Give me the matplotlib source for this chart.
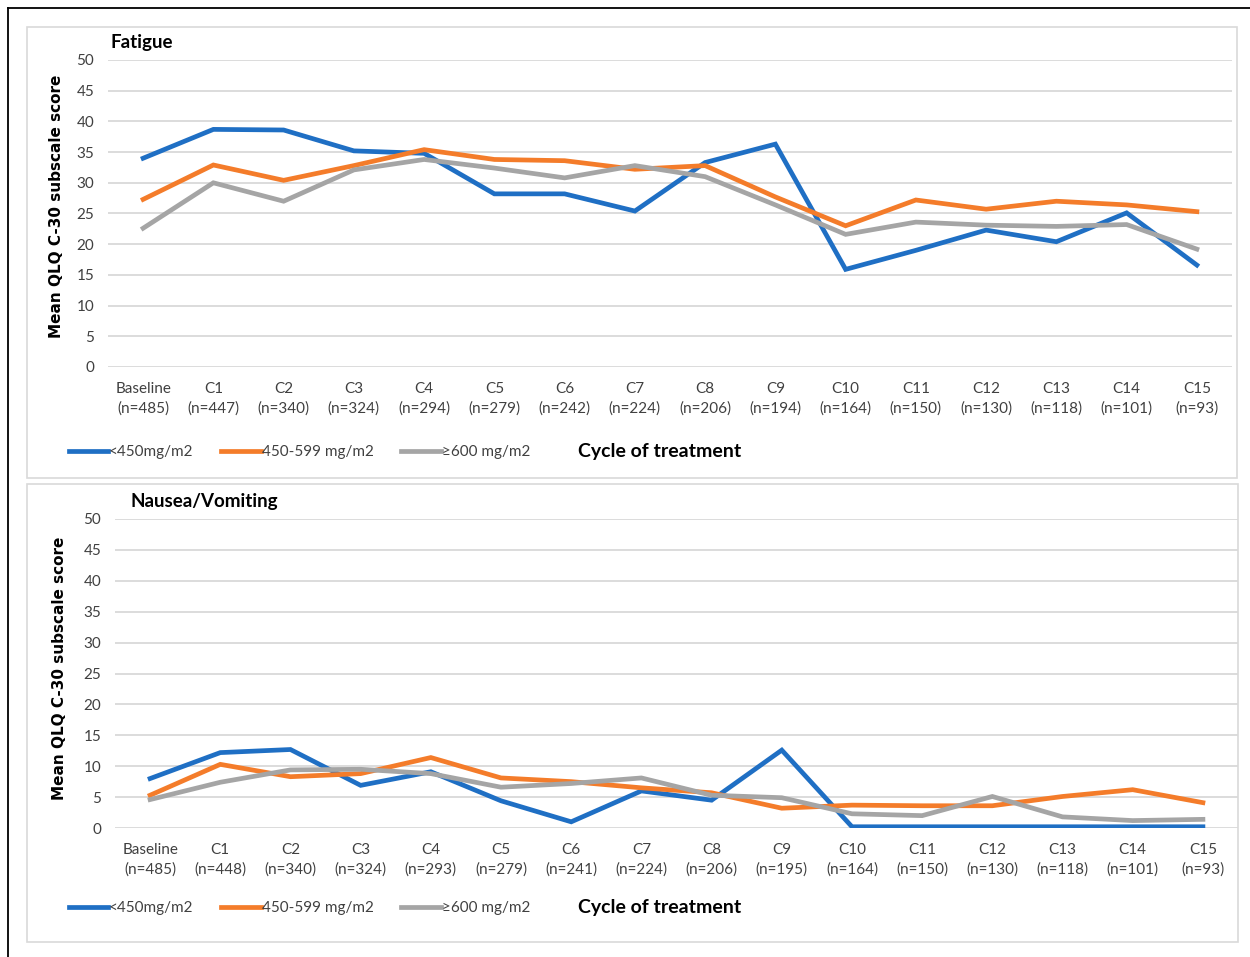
import matplotlib
matplotlib.use("Agg")
import matplotlib.pyplot as plt
from matplotlib.lines import Line2D
from matplotlib.patches import Rectangle

plt.rcParams['font.family'] = ['Lato', 'DejaVu Sans']

# data
cycles = ["Baseline", "C1", "C2", "C3", "C4", "C5", "C6", "C7", "C8",
          "C9", "C10", "C11", "C12", "C13", "C14", "C15"]
n_fatigue = [485, 447, 340, 324, 294, 279, 242, 224, 206, 194, 164, 150, 130, 118, 101, 93]
n_nausea = [485, 448, 340, 324, 293, 279, 241, 224, 206, 195, 164, 150, 130, 118, 101, 93]

groups = ["<450mg/m2", "450-599 mg/m2", "≥600 mg/m2"]
colors = ["#1f6fc4", "#f47c2a", "#a5a5a5"]

fatigue_low = [34.0, 38.7, 38.6, 35.2, 34.8, 28.2, 28.2, 25.4, 33.3, 36.3, 15.9, 19.0, 22.3, 20.4, 25.1, 16.6]
fatigue_mid = [27.3, 32.9, 30.4, 32.8, 35.4, 33.8, 33.6, 32.2, 32.8, 27.7, 23.0, 27.2, 25.7, 27.0, 26.4, 25.3]
fatigue_high = [22.6, 30.0, 27.0, 32.1, 33.8, 32.4, 30.8, 32.8, 31.0, 26.4, 21.6, 23.6, 23.1, 22.9, 23.2, 19.2]

nausea_low = [8.0, 12.2, 12.7, 6.9, 9.1, 4.4, 1.0, 6.0, 4.5, 12.6, 0.2, 0.2, 0.2, 0.2, 0.2, 0.2]
nausea_mid = [5.3, 10.3, 8.3, 8.8, 11.4, 8.1, 7.5, 6.5, 5.7, 3.2, 3.7, 3.6, 3.6, 5.1, 6.2, 4.1]
nausea_high = [4.6, 7.4, 9.4, 9.5, 8.8, 6.6, 7.2, 8.1, 5.3, 4.9, 2.3, 2.0, 5.1, 1.8, 1.2, 1.4]

W, H = 1250, 957
fig = plt.figure(figsize=(W / 100, H / 100), dpi=100)


def px(x0, y0, x1, y1):
    # pixel box -> figure fraction rect
    return [x0 / W, 1 - y1 / H, (x1 - x0) / W, (y1 - y0) / H]


# outer black frame (top and left only) and the two light panels
fig.add_artist(Line2D([8 / W, 1], [1 - 8 / H, 1 - 8 / H], color="black", lw=1.3))
fig.add_artist(Line2D([8 / W, 8 / W], [0, 1 - 8 / H], color="black", lw=1.3))
for box in [(27, 27, 1237, 478), (27, 484, 1238, 942)]:
    r = px(*box)
    fig.add_artist(Rectangle((r[0], r[1]), r[2], r[3], transform=fig.transFigure,
                             fill=False, edgecolor="#d9d9d9", lw=1.2))


def panel(rect, title, series, ns, title_x, title_y, leg_y, ylab_x, ylab_y):
    ax = fig.add_axes(px(*rect))
    x = list(range(len(cycles)))
    for vals, c, g in zip(series, colors, groups):
        ax.plot(x, vals, color=c, lw=3.4, label=g, solid_joinstyle="miter")
    ax.set_xlim(-0.5, len(cycles) - 0.5)
    ax.set_ylim(0, 50)
    ax.set_yticks(range(0, 51, 5))
    ax.set_xticks(x)
    ax.set_xticklabels([f"{c}\n(n={n})" for c, n in zip(cycles, ns)],
                       linespacing=1.45, color="#404040", fontsize=11)
    ax.tick_params(axis="y", labelsize=11, labelcolor="#404040", length=0, pad=10)
    ax.tick_params(axis="x", length=0, pad=11)
    ax.grid(axis="y", color="#d9d9d9", lw=1.3)
    ax.set_axisbelow(True)
    for s in ax.spines.values():
        s.set_visible(False)
    fw = rect[2] - rect[0]
    fh = rect[3] - rect[1]
    ax.set_ylabel("Mean QLQ C-30 subscale score", fontsize=11, fontweight="bold",
                  family=["DejaVu Sans"], va="center")
    ax.yaxis.set_label_coords(-(rect[0] - ylab_x) / fw, (rect[3] - ylab_y) / fh)
    ax.text((title_x - rect[0]) / fw, (rect[3] - title_y) / fh, title, transform=ax.transAxes,
            fontsize=13.5, fontweight="bold", va="center", ha="left")
    ax.set_xlabel("Cycle of treatment", fontsize=14, fontweight="bold")
    ax.xaxis.set_label_coords((660 - rect[0]) / fw, -(leg_y - rect[3]) / fh)
    ax.xaxis.label.set_va("center")
    leg = ax.legend(loc="center left", ncol=3, frameon=False, fontsize=11,
                    handlelength=2.6, handletextpad=0.05, columnspacing=1.8,
                    bbox_to_anchor=((55 - rect[0]) / fw, -(leg_y - rect[3]) / fh))
    for t in leg.get_texts():
        t.set_color("#404040")
    return ax


panel((108, 60, 1232, 367), "Fatigue",
      [fatigue_low, fatigue_mid, fatigue_high], n_fatigue, 110, 43, 452, 57, 206)
panel((115, 519, 1238, 828), "Nausea/Vomiting",
      [nausea_low, nausea_mid, nausea_high], n_nausea, 131, 501, 908, 60, 668)

fig.savefig("out.png", dpi=100)
